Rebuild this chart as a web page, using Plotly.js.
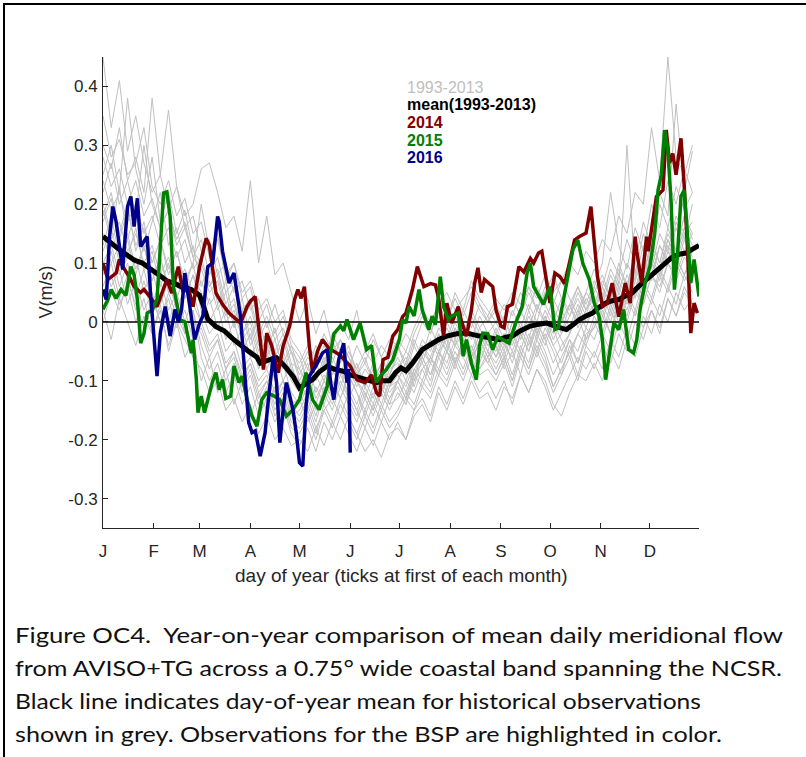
<!DOCTYPE html>
<html>
<head>
<meta charset="utf-8">
<script src="https://cdn.plot.ly/plotly-3.0.1.min.js"></script>
<style>
html,body{margin:0;padding:0;background:#fff;width:806px;height:757px;overflow:hidden;}
#frame{position:absolute;left:3px;top:3px;width:803px;height:754px;border-top:2px solid #000;border-left:2px solid #000;box-sizing:border-box;}
#chart{position:absolute;left:0;top:0;width:806px;height:757px;}
#caption{position:absolute;left:15px;top:619px;font-family:Lato,"Open Sans",sans-serif;font-size:20.5px;line-height:33px;color:#111;}
#caption div{white-space:pre;transform-origin:0 50%;width:max-content;}
</style>
</head>
<body>
<div id="frame"></div>
<div id="chart"></div>
<div id="caption">
<div>Figure OC4.  Year-on-year comparison of mean daily meridional flow</div>
<div>from AVISO+TG across a 0.75° wide coastal band spanning the NCSR.</div>
<div>Black line indicates day-of-year mean for historical observations</div>
<div>shown in grey. Observations for the BSP are highlighted in color.</div>
</div>
<script>
// ---- axis ticks ----
const monthStartDays = [1,32,60,91,121,152,182,213,244,274,305,335];
const monthLabels = ['J','F','M','A','M','J','J','A','S','O','N','D'];
const yTickVals = [-0.3,-0.2,-0.1,0,0.1,0.2,0.3,0.4];
const yTickText = ['-0.3','-0.2','-0.1','0','0.1','0.2','0.3','0.4'];

// ---- historical years 1993-2013 (sampled every 5 days) ----
const greyDays = [1,6,11,16,21,26,31,36,41,46,51,56,61,66,71,76,81,86,91,96,101,106,111,116,121,126,131,136,141,146,151,156,161,166,171,176,181,186,191,196,201,206,211,216,221,226,231,236,241,246,251,256,261,266,271,276,281,286,291,296,301,306,311,316,321,326,331,336,341,346,351,356,361];
const greyYears = ['1993','1994','1995','1996','1997','1998','1999','2000','2001','2002','2003','2004','2005','2006','2007','2008','2009','2010','2011','2012','2013'];
const greyValues = [
[.45,.33,.41,.29,.35,.27,.22,.25,.19,.23,.16,.18, .12,.14,.08,.1,.05,.07,.02,.04,-.01,.03,-.02,-.05, -.07,-.04,-.06,-.02,-.05,-.03,-.06,-.08,-.05,-.07,-.04,-.06, -.03,-.05,-.01,.02,0,.03,.05,.02,.04,.06,.03,.01, .04,.02,.05,.03,.06,.04,.08,.05,.07,.1,.08,.12, .1,.14,.12,.18,.15,.22,.2,.33,.24,.45,.28,.25,.3],
[.02,-.03,.04,0,-.04,.01,-.02,.03,-.05,0,-.03,-.06, -.08,-.12,-.1,-.15,-.13,-.17,-.14,-.19,-.16,-.2,-.18,-.21, -.2,-.22,-.18,-.21,-.17,-.2,-.16,-.19,-.22,-.2,-.23,-.19, -.18,-.2,-.16,-.14,-.17,-.12,-.15,-.11,-.14,-.1,-.13,-.12, -.15,-.11,-.13,-.09,-.12,-.08,-.1,-.14,-.16,-.12,-.09,-.1, -.07,-.1,-.05,-.08,-.03,-.06,-.01,.02,-.02,.04,.01,.05,.03],
[.25,.3,.22,.38,.26,.2,.28,.17,.22,.15,.19,.12, .1,.06,.08,.02,.04,-.02,.01,-.04,-.02,-.06,-.03,-.08, -.1,-.07,-.12,-.09,-.11,-.08,-.13,-.1,-.12,-.15,-.11,-.14, -.1,-.13,-.08,-.06,-.09,-.05,-.07,-.03,-.06,-.04,-.08,-.05, -.07,-.04,-.06,-.02,-.05,0,-.03,-.07,-.04,-.02,.02,-.01, .03,0,.05,.02,.07,.04,.1,.08,.13,.1,.16,.12,.15],
[.18,.22,.15,.2,.12,.17,.1,.14,.08,.12,.06,.1, .2,.12,.15,.07,.1,.04,.06,0,.03,-.02,.01,-.04, -.06,-.1,-.05,-.08,-.03,-.07,-.04,-.09,-.06,-.1,-.07,-.11, -.08,-.06,-.1,-.05,-.03,-.06,-.02,-.04,0,-.03,.01,-.02, 0,-.03,.02,-.01,.03,0,.05,.02,0,.03,.06,.02, .05,.08,.04,.1,.06,.12,.08,.14,.1,.16,.12,.18,.14],
[.05,.08,.03,.06,0,.04,-.02,.02,-.04,0,-.06,-.03, -.1,-.06,-.12,-.08,-.14,-.1,-.16,-.12,-.15,-.11,-.17,-.14, -.16,-.13,-.17,-.12,-.15,-.11,-.14,-.17,-.13,-.16,-.12,-.15, -.12,-.14,-.1,-.08,-.11,-.06,-.09,-.05,-.08,-.04,-.07,-.03, -.06,-.02,-.05,-.01,-.04,0,-.03,.01,-.02,.03,0,.04, .02,.06,.03,.08,.05,.1,.07,.12,.09,.14,.11,.08,.1],
[.3,.26,.33,.24,.28,.22,.38,.25,.36,.23,.18,.2, .26,.27,.22,.16,.18,.12,.24,.1,.18,.08,.1,.05, 0,.04,-.02,.02,-.04,0,-.03,.02,-.05,-.02,-.06,-.03, -.04,-.07,-.02,.01,-.02,.03,0,.05,.02,.07,.04,.02, 0,.03,.01,.05,.02,.06,.03,0,.04,.02,.06,.03, .07,.04,.09,.06,.3,.08,.15,.11,.2,.16,.23,.19,.22],
[.12,.16,.1,.14,.08,.13,.07,.11,.05,.09,.04,.08, .02,-.02,0,-.05,-.03,-.08,-.06,-.1,-.08,-.12,-.1,-.14, -.13,-.17,-.14,-.1,-.13,-.09,-.12,-.15,-.11,-.14,-.1,-.13, -.1,-.07,-.11,-.06,-.09,-.05,-.03,-.07,-.04,-.06,-.02,-.05, -.08,-.05,-.09,-.04,-.07,-.02,-.05,-.09,-.06,-.03,-.07,-.02, -.01,.03,0,.05,.02,.07,.04,.1,.08,.13,.1,.15,.12],
[.2,.15,.23,.14,.19,.12,.17,.22,.13,.16,.1,.13, .06,.1,.03,.07,0,.04,-.03,.01,-.05,-.01,-.07,-.04, -.08,-.05,-.1,-.06,-.09,-.05,-.1,-.07,-.11,-.08,-.12,-.09, -.06,-.09,-.04,-.07,-.03,-.05,-.01,-.04,-.02,-.05,-.01,-.04, -.02,-.05,0,-.03,.02,-.02,.01,-.03,0,.03,-.01,.02, .04,.01,.06,.03,.08,.05,.11,.07,.13,.1,.17,.14,.2],
[.1,.13,.08,.11,.16,.09,.12,.06,.1,.04,.08,.03, 0,-.04,-.02,-.07,-.05,-.09,-.07,-.11,-.09,-.13,-.1,-.15, -.17,-.14,-.18,-.15,-.13,-.16,-.12,-.15,-.18,-.14,-.17,-.13, -.11,-.14,-.09,-.07,-.1,-.05,-.08,-.04,-.06,-.09,-.05,-.07, -.09,-.06,-.1,-.05,-.08,-.03,-.06,-.11,-.08,-.05,-.02,-.04, 0,-.03,.02,-.01,.04,.01,.06,.03,.08,.05,.1,.07,.09],
[.22,.27,.2,.24,.18,.3,.2,.16,.19,.14,.17,.11, .14,.08,.11,.05,.07,.02,.04,-.02,.01,-.03,-.01,-.05, -.09,-.06,-.08,-.04,-.07,-.03,-.06,-.09,-.07,-.1,-.08,-.11, -.09,-.11,-.07,-.04,-.06,-.02,-.04,0,-.03,.01,-.02,-.04, -.05,-.02,-.04,0,-.03,.02,0,-.04,-.02,.01,.04,.01, .06,.03,.08,.05,.1,.07,.13,.09,.15,.12,.18,.15,.17],
[.15,.1,.13,.07,.11,.05,.09,.03,.07,.02,.06,0, -.02,-.06,-.03,-.08,-.05,-.1,-.07,-.12,-.1,-.14,-.11,-.16, -.15,-.12,-.16,-.11,-.14,-.1,-.13,-.16,-.12,-.15,-.11,-.14, -.13,-.1,-.12,-.08,-.06,-.09,-.05,-.07,-.03,-.06,-.04,-.07, -.04,-.07,-.03,-.06,-.02,-.05,-.01,-.04,-.07,-.03,-.05,-.01, -.03,.01,-.02,.03,0,.05,.03,.08,.06,.1,.08,.12,.1],
[.08,.12,.06,.1,.04,.09,.03,.07,.02,.05,0,.04, .07,.03,.05,0,.02,-.03,-.01,-.06,-.04,-.08,-.06,-.1, -.12,-.09,-.13,-.1,-.12,-.08,-.11,-.14,-.1,-.13,-.09,-.12, -.1,-.07,-.09,-.05,-.07,-.03,-.05,-.01,-.04,-.02,-.05,-.03, -.06,-.03,-.07,-.02,-.05,-.01,-.04,0,-.03,-.06,-.02,.01, .03,.06,.02,.07,.04,.09,.06,.11,.08,.14,.11,.16,.13],
[.28,.23,.26,.2,.24,.18,.21,.16,.19,.13,.16,.11, .09,.05,.07,.01,.03,-.02,0,-.05,-.03,-.07,-.05,-.09, -.11,-.08,-.1,-.07,-.09,-.06,-.08,-.11,-.08,-.1,-.07,-.1, -.08,-.05,-.07,-.03,-.05,-.01,-.03,.01,-.02,.02,-.01,.01, -.02,.01,-.03,.02,-.01,.03,0,.04,.01,-.02,.02,.05, .03,.07,.04,.09,.06,.11,.08,.13,.1,.15,.12,.18,.15],
[0,.05,.02,.07,.03,-.01,.04,0,.05,.01,-.02,.02, -.04,-.08,-.05,-.1,-.07,-.12,-.09,-.14,-.11,-.16,-.13,-.18, -.19,-.16,-.2,-.15,-.18,-.14,-.17,-.2,-.16,-.19,-.15,-.18, -.16,-.13,-.15,-.11,-.13,-.09,-.11,-.07,-.1,-.06,-.09,-.08, -.1,-.07,-.11,-.06,-.09,-.05,-.08,-.12,-.09,-.06,-.1,-.05, -.08,-.04,-.07,-.02,-.05,0,-.03,.02,-.01,.04,.01,.06,.03],
[.17,.21,.14,.19,.13,.16,.1,.14,.09,.12,.07,.1, .03,.07,.02,.05,-.01,.02,-.04,-.01,-.06,-.03,-.08,-.05, -.1,-.13,-.09,-.12,-.08,-.11,-.07,-.1,-.13,-.09,-.12,-.08, -.07,-.1,-.06,-.04,-.07,-.02,-.05,-.01,-.04,0,-.03,-.06, -.03,-.06,-.02,-.05,0,-.03,.01,-.02,.02,-.01,.03,0, .02,.05,.01,.06,.03,.08,.05,.1,.07,.12,.09,.14,.11],
[.35,.28,.31,.25,.27,.33,.23,.2,.24,.18,.21,.15, .17,.11,.14,.08,.1,.05,.07,.02,.04,0,.02,-.03, -.05,-.08,-.04,-.07,-.02,-.05,-.08,-.04,-.07,-.03,-.06,-.09, -.05,-.02,-.04,0,-.02,.02,0,.04,.01,.05,.02,0, .02,0,.04,.01,.05,.02,.06,.03,.07,.04,.01,.05, .09,.06,.11,.08,.14,.1,.17,.13,.22,.18,.37,.22,.29],
[.13,.18,.11,.15,.09,.13,.07,.11,.06,.09,.04,.08, .05,0,.03,-.03,0,-.05,-.02,-.08,-.05,-.1,-.07,-.12, -.14,-.11,-.15,-.12,-.1,-.13,-.09,-.12,-.15,-.11,-.14,-.1, -.09,-.12,-.08,-.1,-.06,-.08,-.04,-.07,-.03,-.06,-.02,-.05, -.01,-.04,0,-.03,.01,-.02,.02,-.01,-.05,-.02,.01,-.03, .01,-.02,.03,0,.05,.02,.07,.04,.09,.06,.11,.08,.12],
[.06,.1,.04,.08,.02,.07,.01,.05,0,.04,-.02,.02, -.06,-.1,-.07,-.12,-.09,-.14,-.11,-.16,-.13,-.17,-.14,-.19, -.21,-.18,-.22,-.17,-.2,-.16,-.19,-.22,-.18,-.21,-.17,-.2, -.17,-.2,-.15,-.13,-.16,-.11,-.14,-.1,-.13,-.09,-.12,-.1, -.13,-.1,-.14,-.09,-.12,-.08,-.11,-.15,-.12,-.09,-.06,-.08, -.05,-.08,-.03,-.06,-.01,-.04,.01,-.02,.03,0,.05,.02,.04],
[.24,.19,.22,.17,.2,.15,.18,.13,.16,.11,.14,.09, .11,.06,.09,.03,.06,0,.03,-.03,0,-.05,-.02,-.07, -.08,-.11,-.07,-.1,-.06,-.09,-.05,-.08,-.11,-.07,-.1,-.06, -.04,-.08,-.03,-.06,-.01,-.04,0,-.03,.02,-.01,.03,0, .03,0,.04,.01,.06,.02,.05,.08,.04,.01,.05,.02, .06,.1,.22,.13,.09,.16,.12,.2,.16,.24,.2,.26,.22],
[.1,.06,.09,.03,.07,.02,.05,0,.04,-.01,.02,-.03, -.01,-.05,-.03,-.08,-.06,-.11,-.08,-.13,-.1,-.15,-.12,-.17, -.18,-.15,-.19,-.14,-.17,-.13,-.16,-.19,-.15,-.18,-.14,-.17, -.15,-.12,-.14,-.1,-.12,-.08,-.1,-.06,-.09,-.05,-.08,-.06, -.09,-.06,-.1,-.05,-.08,-.04,-.07,-.11,-.08,-.05,-.09,-.04, -.06,-.02,-.05,0,-.03,.02,-.01,.04,.01,.06,.03,.08,.05],
[.19,.14,.17,.12,.15,.1,.13,.08,.11,.06,.09,.05, 0,.04,-.01,.02,-.04,-.01,-.06,-.03,-.08,-.05,-.1,-.07, -.12,-.15,-.11,-.14,-.1,-.13,-.09,-.12,-.16,-.12,-.15,-.11, -.1,-.13,-.09,-.11,-.07,-.09,-.05,-.08,-.04,-.07,-.03,-.06, -.04,-.08,-.05,-.09,-.03,-.06,-.02,-.05,-.09,-.04,-.07,-.03, -.01,.02,-.02,.04,.01,.06,.03,.08,.05,.1,.07,.11,.09]
];

// ---- day-of-year mean 1993-2013 ----
const daysMean = [1,5,10,15,20,25,30,35,40,45,50,55,60,62,65,70,75,80,85,90,95,97,102,107,112,117,121,125,129,133,138,142,148,152,158,163,168,172,176,180,183,186,190,196,201,206,211,217,223,227,231,237,243,247,251,256,262,267,272,278,284,288,292,296,300,304,308,312,316,320,324,328,333,337,341,345,349,353,357,360,363,365];
const vMean = [.145,.135,.125,.115,.105,.1,.09,.082,.07,.065,.058,.055,.045,.03,.005,-.008,-.015,-.028,-.04,-.05,-.06,-.07,-.065,-.061,-.075,-.092,-.112,-.105,-.098,-.085,-.075,-.08,-.084,-.09,-.095,-.1,-.103,-.1,-.1,-.085,-.078,-.083,-.07,-.047,-.038,-.03,-.024,-.02,-.019,-.022,-.024,-.027,-.03,-.026,-.024,-.015,-.007,-.004,-.002,-.008,-.013,-.005,.004,.01,.015,.025,.032,.036,.038,.044,.049,.06,.072,.08,.089,.1,.111,.115,.117,.122,.128,.13];

// ---- 2014 ----
const days2014 = [1,4,9,11,14,17,20,24,26,29,34,37,40,43,47,50,53,56,60,64,66,70,74,78,85,89,91,94,97,99,101,104,108,111,115,118,120,122,124,127,129,132,135,139,144,147,152,156,161,165,168,170,172,175,178,181,184,186,190,193,197,201,204,206,209,211,214,218,220,223,226,228,230,232,234,237,239,241,244,246,248,251,253,255,258,262,264,267,269,271,274,277,280,283,286,289,292,296,299,303,306,309,312,314,316,320,323,326,327,330,333,334,337,339,343,345,347,349,351,354,356,358,360,362,364];
const v2014 = [.10,.072,.083,.106,.09,.077,.06,.05,.055,.045,.026,.05,.072,.049,.094,.05,.06,.026,.094,.142,.13,.049,.03,.015,-.002,.026,.035,.043,-.03,-.081,-.019,-.04,-.086,-.041,-.007,.038,.055,.04,.06,-.041,-.086,-.05,-.03,-.045,-.053,-.06,-.075,-.098,-.103,-.09,-.12,-.126,-.064,-.06,-.024,-.013,.009,.015,.055,.094,.06,.065,.063,.04,-.024,.032,-.002,.026,0,-.024,.02,.066,.092,.05,.072,.065,.06,.021,-.007,-.01,.026,.03,.06,.094,.085,.108,.1,.117,.12,.083,.032,.083,.077,.065,.1,.139,.145,.151,.196,.077,.026,.032,.066,.04,.009,.066,.032,.145,.12,.066,.145,.12,.179,.213,.224,.326,.27,.286,.25,.312,.23,.123,-.019,.032,.015];

// ---- 2015 ----
const days2015 = [1,4,6,9,12,15,18,20,22,24,26,28,31,34,36,38,40,42,44,48,51,55,56,58,59,61,63,66,68,70,72,74,76,79,81,84,86,89,92,95,98,101,105,109,113,117,121,125,129,133,138,140,142,146,148,150,154,158,162,165,168,171,174,178,182,184,186,188,191,194,196,200,202,204,207,209,212,214,218,221,223,226,229,231,233,236,239,242,245,249,253,257,260,262,264,268,270,274,277,279,282,285,288,291,294,298,301,304,306,308,310,313,316,319,322,325,327,329,332,335,338,340,342,344,346,348,350,352,354,356,358,360,362,365];
const v2015 = [.021,.038,.055,.04,.055,.045,.094,.08,.038,-.036,-.02,.015,.02,.038,.128,.219,.221,.179,.06,.004,0,-.053,-.03,-.098,-.154,-.126,-.154,-.12,-.1,-.086,-.115,-.098,-.13,-.126,-.075,-.103,-.092,-.132,-.16,-.177,-.132,-.12,-.125,-.132,-.16,-.149,-.132,-.086,-.132,-.149,-.109,-.053,-.02,-.007,-.015,.004,-.03,-.002,-.047,-.04,-.103,-.09,-.081,-.064,-.03,.004,-.002,.026,.01,.055,.02,-.013,.01,-.005,.077,.026,.004,.01,.015,-.058,-.03,-.07,-.098,-.04,-.019,-.02,-.047,-.025,-.03,-.036,-.002,.026,.083,.1,.06,.038,.03,.06,-.013,-.01,.032,.077,.123,.139,.1,.072,.032,.009,-.03,-.098,-.06,-.002,-.013,.021,-.047,-.053,-.03,.021,.066,.094,.151,.224,.25,.326,.292,.202,.055,.12,.213,.224,.145,.066,.106,.043];

// ---- 2016 (through June 1) ----
const days2016 = [1,3,5,7,9,11,13,16,18,20,22,24,28,30,32,34,36,39,42,45,47,49,51,54,57,60,62,65,68,71,72,74,78,81,85,88,90,92,94,97,100,102,105,107,109,111,113,115,117,119,121,123,125,127,131,135,138,140,142,145,148,150,151,152];
const v2016 = [.055,.038,.145,.196,.17,.128,.089,.196,.213,.162,.21,.128,.145,.049,-.02,-.092,-.019,.026,-.024,.021,0,.021,.083,.021,-.03,-.002,.01,.094,.1,.179,.17,.12,.066,.083,.009,-.103,-.171,-.188,-.185,-.228,-.188,-.132,-.058,-.103,-.205,-.15,-.103,-.125,-.149,-.188,-.239,-.245,-.143,-.092,-.075,-.053,-.047,-.103,-.132,-.064,-.036,-.103,-.08,-.222];

// ---- legend labels ----
const legendLabels = ['1993-2013','mean(1993-2013)','2014','2015','2016'];
const legendColors = ['#c0c0c0','#000000','#800000','#008000','#00008b'];

const traces = [];
greyValues.forEach((vals, i) => {
  traces.push({x: greyDays, y: vals, type: 'scatter', mode: 'lines', name: greyYears[i],
    line: {color: '#c0c0c0', width: 1}, hoverinfo: 'skip'});
});
traces.push({x: [monthStartDays[0], 365], y: [0, 0], type: 'scatter', mode: 'lines',
  line: {color: '#000000', width: 1.5}, hoverinfo: 'skip', name: 'zero'});
traces.push({x: daysMean, y: vMean, type: 'scatter', mode: 'lines', name: 'mean(1993-2013)',
  line: {color: '#000000', width: 5}});
traces.push({x: days2014, y: v2014, type: 'scatter', mode: 'lines', name: '2014',
  line: {color: '#800000', width: 3.5}});
traces.push({x: days2015, y: v2015, type: 'scatter', mode: 'lines', name: '2015',
  line: {color: '#008000', width: 3.5}});
traces.push({x: days2016, y: v2016, type: 'scatter', mode: 'lines', name: '2016',
  line: {color: '#00008b', width: 3.5}});

const legendY = [0.9363, 0.8981, 0.8599, 0.8217, 0.7856];
const annotations = legendLabels.map((t, i) => ({
  text: i === 0 ? t : '<b>' + t + '</b>', xref: 'paper', yref: 'paper', x: 0.507, y: legendY[i],
  xanchor: 'left', yanchor: 'middle', showarrow: false,
  font: {family: 'Liberation Sans, Arial, sans-serif', size: 16, color: legendColors[i]}
}));
annotations.push({text: 'day of year (ticks at first of each month)', xref: 'paper', yref: 'paper',
  x: 0.5, y: -0.0998, xanchor: 'center', yanchor: 'middle', showarrow: false,
  font: {family: 'Liberation Sans, Arial, sans-serif', size: 19, color: '#262626'}});
annotations.push({text: 'V(m/s)', xref: 'paper', yref: 'paper', x: -0.0973, y: 0.5,
  xanchor: 'center', yanchor: 'middle', textangle: -90, showarrow: false,
  font: {family: 'Liberation Sans, Arial, sans-serif', size: 18, color: '#262626'}});

const layout = {
  width: 806, height: 757,
  margin: {l: 103, r: 107, t: 57, b: 229, pad: 0},
  paper_bgcolor: 'rgba(0,0,0,0)', plot_bgcolor: 'rgba(0,0,0,0)',
  showlegend: false,
  font: {family: 'Liberation Sans, Arial, sans-serif', color: '#262626'},
  xaxis: {range: [1, 365], tickmode: 'array', tickvals: monthStartDays, ticktext: monthLabels,
    ticks: 'inside', ticklen: 5, tickwidth: 1, tickcolor: '#262626',
    showline: true, linecolor: '#262626', linewidth: 1, showgrid: false, zeroline: false,
    tickfont: {size: 17, color: '#262626'}, ticklabelstandoff: 8},
  yaxis: {range: [-0.35, 0.45], tickmode: 'array', tickvals: yTickVals, ticktext: yTickText,
    ticks: 'inside', ticklen: 5, tickwidth: 1, tickcolor: '#262626',
    showline: true, linecolor: '#262626', linewidth: 1, showgrid: false, zeroline: false,
    tickfont: {size: 17, color: '#262626'}, ticklabelstandoff: 1},
  annotations: annotations
};

Plotly.newPlot('chart', traces, layout, {displayModeBar: false, staticPlot: true});

// fit each caption line to the reference line lengths
(function(){
  const targets = [768, 767, 686, 707];
  const lines = document.querySelectorAll('#caption div');
  lines.forEach((el, i) => {
    const w = el.getBoundingClientRect().width;
    if (w > 0) el.style.transform = 'scaleX(' + (targets[i] / w).toFixed(4) + ')';
  });
})();
</script>
</body>
</html>
